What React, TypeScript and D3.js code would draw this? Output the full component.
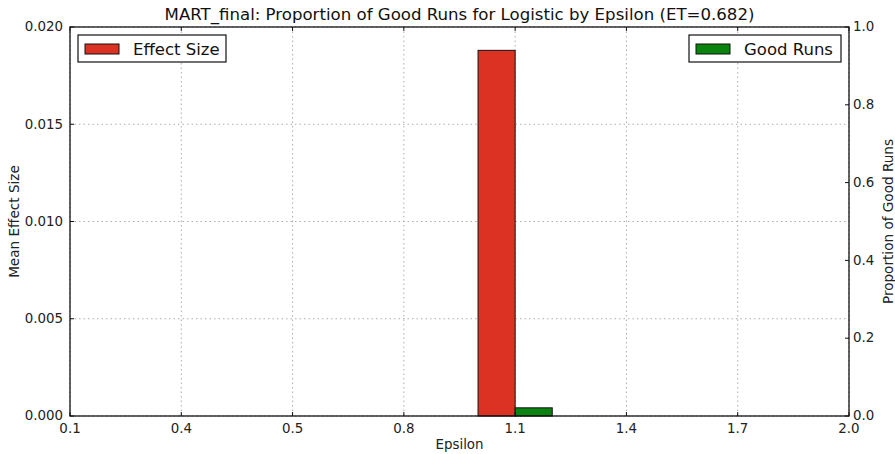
import React from 'react'
import * as d3 from 'd3'

const epsilons = ['0.1', '0.4', '0.5', '0.8', '1.1', '1.4', '1.7', '2.0']
const effectSize = [0, 0, 0, 0, 0.0188, 0, 0, 0]
const goodRuns = [0, 0, 0, 0, 0.021, 0, 0, 0]
const leftTicks = [0, 0.005, 0.01, 0.015, 0.02]
const rightTicks = [0, 0.2, 0.4, 0.6, 0.8, 1.0]

const title = 'MART_final: Proportion of Good Runs for Logistic by Epsilon (ET=0.682)'

export default function App() {
  const width = 895
  const height = 454
  const margin = { top: 27, right: 46, bottom: 38, left: 70 }
  const innerW = width - margin.left - margin.right
  const innerH = height - margin.top - margin.bottom
  const font = 'DejaVu Sans, sans-serif'

  const x = d3.scaleLinear().domain([0, epsilons.length - 1]).range([0, innerW])
  const yLeft = d3.scaleLinear().domain([0, 0.02]).range([innerH, 0])
  const yRight = d3.scaleLinear().domain([0, 1]).range([innerH, 0])
  const barW = 1 / 3

  const red = '#dc3224'
  const green = '#0a840f'
  const tickLen = 4
  const tickFont = 13.4

  return (
    <svg
      width={width}
      height={height}
      style={{ position: 'absolute', left: 0, top: 0, background: '#fff' }}
      fontFamily={font}
    >
      <text x={margin.left + innerW / 2} y={20} textAnchor="middle" fontSize={16.6} fill="#111">
        {title}
      </text>
      <g transform={`translate(${margin.left},${margin.top})`}>
        {/* grid */}
        {epsilons.map((_, i) => (
          <line key={`gx${i}`} x1={x(i)} x2={x(i)} y1={0} y2={innerH}
            stroke="#999" strokeWidth={0.8} strokeDasharray="1.5,3" />
        ))}
        {leftTicks.map((t) => (
          <line key={`gy${t}`} x1={0} x2={innerW} y1={yLeft(t)} y2={yLeft(t)}
            stroke="#999" strokeWidth={0.8} strokeDasharray="1.5,3" />
        ))}

        {/* bars */}
        {effectSize.map((v, i) => v > 0 && (
          <rect key={`e${i}`} x={x(i - barW)} width={x(barW) - x(0)} y={yLeft(v)}
            height={innerH - yLeft(v)} fill={red} stroke="#111" strokeWidth={1} />
        ))}
        {goodRuns.map((v, i) => v > 0 && (
          <rect key={`g${i}`} x={x(i)} width={x(barW) - x(0)} y={yRight(v)}
            height={innerH - yRight(v)} fill={green} stroke="#111" strokeWidth={1} />
        ))}

        {/* frame */}
        <rect x={0} y={0} width={innerW} height={innerH} fill="none" stroke="#111" strokeWidth={1.3} />

        {/* x ticks */}
        {epsilons.map((e, i) => (
          <g key={`xt${i}`}>
            <line x1={x(i)} x2={x(i)} y1={innerH} y2={innerH - tickLen} stroke="#111" />
            <line x1={x(i)} x2={x(i)} y1={0} y2={tickLen} stroke="#111" />
            <text x={x(i)} y={innerH + 17} textAnchor="middle" fontSize={tickFont} fill="#222">{e}</text>
          </g>
        ))}

        {/* left ticks */}
        {leftTicks.map((t) => (
          <g key={`lt${t}`}>
            <line x1={0} x2={tickLen} y1={yLeft(t)} y2={yLeft(t)} stroke="#111" />
            <text x={-7} y={yLeft(t)} dy="0.32em" textAnchor="end" fontSize={tickFont} fill="#222">
              {d3.format('.3f')(t)}
            </text>
          </g>
        ))}

        {/* right ticks */}
        {rightTicks.map((t) => (
          <g key={`rt${t}`}>
            <line x1={innerW - tickLen} x2={innerW} y1={yRight(t)} y2={yRight(t)} stroke="#111" />
            <text x={innerW + 4} y={yRight(t)} dy="0.32em" textAnchor="start" fontSize={tickFont} fill="#222">
              {d3.format('.1f')(t)}
            </text>
          </g>
        ))}

        {/* axis labels */}
        <text x={innerW / 2} y={innerH + 33} textAnchor="middle" fontSize={13.4} fill="#222">Epsilon</text>
        <text transform={`translate(${-51},${innerH / 2}) rotate(-90)`} textAnchor="middle"
          fontSize={13.6} fill="#222">Mean Effect Size</text>
        <text transform={`translate(${innerW + 44},${innerH / 2}) rotate(-90)`} textAnchor="middle"
          fontSize={13.6} fill="#222">Proportion of Good Runs</text>

        {/* legends */}
        <g transform="translate(8,8)">
          <rect x={0} y={0} width={148} height={27} fill="#fff" stroke="#111" strokeWidth={1.2} />
          <rect x={7} y={9} width={34} height={10} fill={red} stroke="#111" strokeWidth={1} />
          <text x={55} y={14} dy="0.35em" fontSize={16.5} fill="#111">Effect Size</text>
        </g>
        <g transform={`translate(${innerW - 160},8)`}>
          <rect x={0} y={0} width={152} height={27} fill="#fff" stroke="#111" strokeWidth={1.2} />
          <rect x={7} y={9} width={34} height={10} fill={green} stroke="#111" strokeWidth={1} />
          <text x={55} y={14} dy="0.35em" fontSize={16.5} fill="#111">Good Runs</text>
        </g>
      </g>
    </svg>
  )
}
